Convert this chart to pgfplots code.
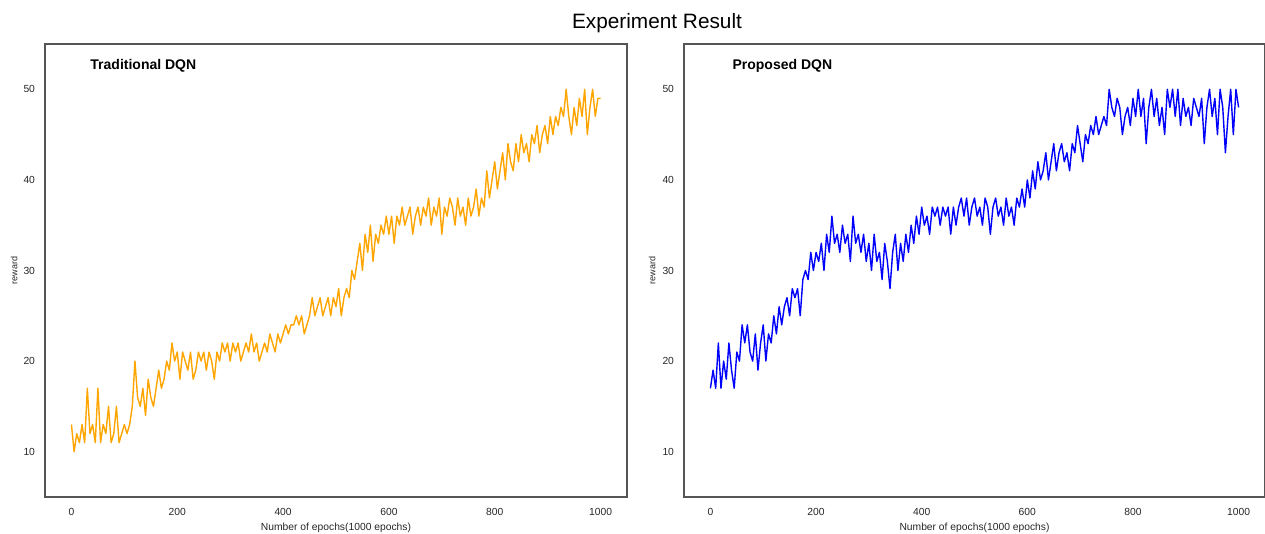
\documentclass[border=0pt]{standalone}
\usepackage{pgfplots}
\pgfplotsset{compat=1.18}
\usepackage{pgfplotstable}
\usepackage{fontspec}
\setmainfont{Liberation Sans}
\definecolor{mplorange}{HTML}{FFA500}
\definecolor{framegray}{HTML}{555555}
\definecolor{ticktext}{HTML}{262626}

\pgfplotstableread{
x y
0 13
5 10
10 12
15 11
20 13
25 11
30 17
35 12
40 13
45 11
50 17
55 11
60 13
65 12
70 15
75 11
80 12
85 15
90 11
95 12
100 13
105 12
110 13
115 15
120 20
125 16
130 15
135 17
140 14
145 18
150 16
155 15
160 17
165 19
170 17
175 18
180 20
185 19
190 22
195 20
200 21
205 18
210 21
215 20
220 19
225 21
230 18
235 19
240 21
245 20
250 21
255 19
260 21
265 20
270 18
275 21
280 20
285 22
290 21
295 22
300 20
305 22
310 21
315 22
320 20
325 21
330 22
335 21
340 23
345 21
350 22
355 20
360 21
365 22
370 21
375 23
380 22
385 21
390 23
395 22
400 23
405 24
410 23
415 24
420 24
425 25
430 24
435 25
440 23
445 24
450 25
455 27
460 25
465 26
470 27
475 25
480 26
485 27
490 25
495 27
500 26
505 28
510 25
515 27
520 28
525 27
530 30
535 29
540 31
545 33
550 30
555 34
560 32
565 35
570 31
575 34
580 33
585 35
590 34
595 36
600 34
605 36
610 33
615 36
620 35
625 37
630 35
635 36
640 37
645 34
650 36
655 37
660 35
665 37
670 36
675 38
680 35
685 37
690 36
695 38
700 34
705 37
710 36
715 38
720 37
725 35
730 38
735 36
740 37
745 35
750 38
755 36
760 37
765 39
770 36
775 38
780 37
785 41
790 38
795 40
800 42
805 39
810 41
815 43
820 40
825 44
830 42
835 41
840 44
845 42
850 45
855 43
860 44
865 42
870 45
875 44
880 46
885 43
890 45
895 46
900 44
905 47
910 45
915 47
920 46
925 48
930 47
935 50
940 47
945 45
950 48
955 46
960 49
965 47
970 50
975 45
980 48
985 50
990 47
995 49
1000 49
}\tradtable

\pgfplotstableread{
x y
0 17
5 19
10 17
15 22
20 17
25 20
30 18
35 22
40 19
45 17
50 21
55 20
60 24
65 22
70 24
75 21
80 20
85 23
90 19
95 22
100 24
105 20
110 23
115 22
120 25
125 23
130 26
135 24
140 26
145 27
150 25
155 28
160 27
165 28
170 25
175 29
180 30
185 29
190 32
195 30
200 32
205 31
210 33
215 30
220 34
225 32
230 36
235 33
240 34
245 32
250 35
255 33
260 34
265 31
270 36
275 33
280 34
285 32
290 34
295 31
300 33
305 30
310 34
315 31
320 32
325 29
330 33
335 31
340 28
345 32
350 34
355 30
360 33
365 31
370 34
375 32
380 35
385 33
390 36
395 34
400 37
405 35
410 36
415 34
420 37
425 36
430 37
435 35
440 37
445 36
450 37
455 34
460 37
465 35
470 37
475 38
480 36
485 38
490 35
495 37
500 38
505 36
510 37
515 35
520 38
525 37
530 34
535 37
540 38
545 36
550 37
555 35
560 38
565 36
570 37
575 35
580 38
585 37
590 39
595 37
600 40
605 38
610 41
615 39
620 42
625 40
630 41
635 43
640 40
645 42
650 44
655 41
660 43
665 44
670 42
675 43
680 41
685 44
690 43
695 46
700 44
705 42
710 45
715 44
720 46
725 45
730 47
735 45
740 46
745 47
750 46
755 50
760 48
765 47
770 49
775 48
780 45
785 47
790 48
795 46
800 49
805 47
810 50
815 47
820 49
825 44
830 48
835 50
840 47
845 49
850 46
855 48
860 45
865 50
870 48
875 50
880 47
885 50
890 46
895 49
900 47
905 48
910 46
915 49
920 48
925 47
930 49
935 44
940 48
945 50
950 47
955 49
960 45
965 50
970 48
975 43
980 47
985 50
990 45
995 50
1000 48
}\proptable

\pgfplotsset{
  panel/.style={
    scale only axis,
    width=582pt, height=453pt,
    xmin=-50, xmax=1050, ymin=5, ymax=55,
    xtick={0,200,400,600,800,1000},
    ytick={10,20,30,40,50},
    major tick length=0pt,
    axis line style={draw=framegray, line width=1.2pt},
    /pgf/number format/assume math mode=true,
    /pgf/number format/1000 sep={},
    tick label style={font=\fontsize{10.3}{12}\selectfont, text=ticktext},
    yticklabel style={xshift=-6.5pt},
    xticklabel style={yshift=-7.5pt},
    xlabel style={font=\fontsize{10.3}{12}\selectfont, text=ticktext, at={(axis description cs:0.5,-0.068)}, anchor=center},
    ylabel style={font=\fontsize{9}{10}\selectfont, text=ticktext, anchor=center},
    xlabel={Number of epochs(1000 epochs)},
    ylabel={reward},
    clip=true,
  }
}

\begin{document}
\begin{tikzpicture}[x=1pt,y=1pt]
\path[use as bounding box] (0,0) rectangle (1265,534);
\node[font=\fontsize{20.8}{24}\selectfont, text=black] at (657,511) {Experiment Result};

\begin{axis}[panel, at={(45pt,37pt)}, anchor=south west,
  ylabel style={at={(axis description cs:-0.053,0.5)}}]
\addplot[color=mplorange, line width=1.4pt, line join=round] table[x=x,y=y] {\tradtable};
\node[anchor=west, font=\bfseries\fontsize{14}{16}\selectfont] at (axis description cs:0.072,0.952) {Traditional DQN};
\end{axis}

\begin{axis}[panel, width=581pt, at={(684pt,37pt)}, anchor=south west,
  ylabel style={at={(axis description cs:-0.055,0.5)}}]
\addplot[color=blue, line width=1.4pt, line join=round] table[x=x,y=y] {\proptable};
\node[anchor=west, font=\bfseries\fontsize{14}{16}\selectfont] at (axis description cs:0.0775,0.952) {Proposed DQN};
\end{axis}
\end{tikzpicture}
\end{document}
